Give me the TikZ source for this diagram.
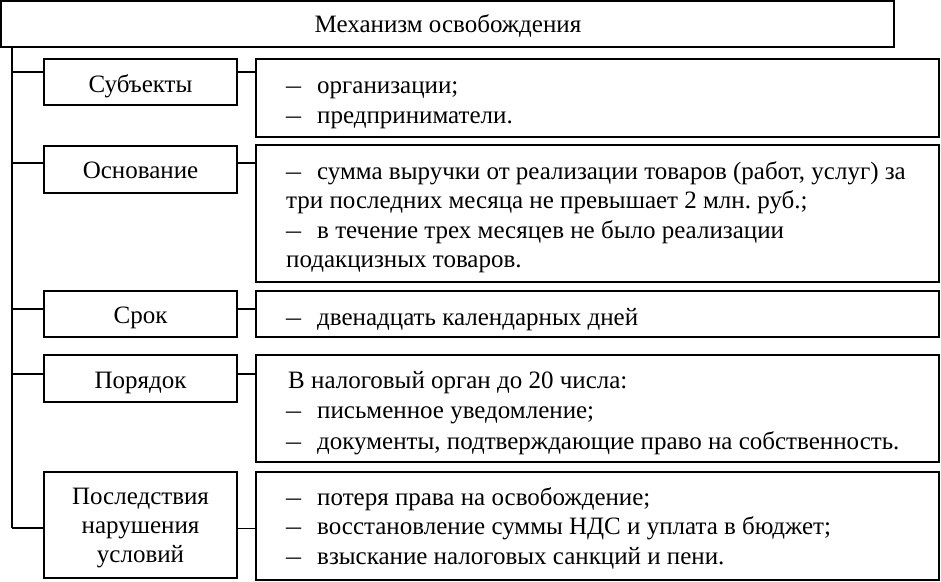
\documentclass[tikz,border=0pt]{standalone}
\usepackage{fontspec}
\setmainfont{Liberation Serif}
\frenchspacing
\begin{document}
\begin{tikzpicture}[x=1pt,y=-1pt,
  box/.style={draw,line width=2pt,inner sep=0pt,rectangle},
  lbox/.style={box,minimum width=193pt},
  rbox/.style={box,minimum width=683pt},
  conn/.style={line width=2pt},
  thin/.style={line width=1pt},
  txt/.style={inner sep=0pt,anchor=base west,font=\fontsize{25}{29}\selectfont},
  ctxt/.style={inner sep=0pt,anchor=base,font=\fontsize{25}{29}\selectfont},
  dsh/.style={inner sep=0pt,anchor=base west,font=\fontsize{25}{29}\selectfont}
]
\useasboundingbox (0,0) rectangle (941,581);
% title
\node[box,minimum width=893pt,minimum height=46pt] (title) at (447.5,24) {};
\node[ctxt] (ttl) at (448,32) {Механизм освобождения};
% left boxes
\node[lbox,minimum height=46pt] (s1) at (140.5,82) {};
\node[lbox,minimum height=47pt] (s2) at (140.5,169.5) {};
\node[lbox,minimum height=46pt] (s3) at (140.5,314) {};
\node[lbox,minimum height=47pt] (s4) at (140.5,378.5) {};
\node[lbox,minimum height=106pt] (s5) at (140.5,525) {};
% right boxes
\node[rbox,minimum height=78pt] (r1) at (597.5,98) {};
\node[rbox,minimum height=137pt] (r2) at (597.5,213.5) {};
\node[rbox,minimum height=46pt] (r3) at (597.5,314) {};
\node[rbox,minimum height=107pt] (r4) at (597.5,408.5) {};
\node[rbox,minimum height=108pt] (r5) at (597.5,526) {};
% left labels
\node[ctxt] (l1) at (140.5,92) {Субъекты};
\node[ctxt] (l2) at (140.5,178) {Основание};
\node[ctxt] (l3) at (140.5,323.5) {Срок};
\node[ctxt] (l4) at (140.5,388) {Порядок};
\node[ctxt] (l5a) at (140.5,504) {Последствия};
\node[ctxt] (l5b) at (140.5,533) {нарушения};
\node[ctxt] (l5c) at (140.5,562) {условий};
% right texts
\newcommand{\dashmark}{\scalebox{1.2}[1]{–}}
\node[dsh] (d1a) at (286,93) {\dashmark};
\node[txt] (t1a) at (317,93) {организации;};
\node[dsh] (d1b) at (286,123) {\dashmark};
\node[txt] (t1b) at (317,123) {предприниматели.};
\node[dsh] (d2a) at (286,179) {\dashmark};
\node[txt] (t2a) at (317,179) {сумма выручки от реализации товаров (работ, услуг) за};
\node[txt] (t2b) at (286,208) {три последних месяца не превышает 2 млн. руб.;};
\node[dsh] (d2c) at (286,238) {\dashmark};
\node[txt] (t2c) at (317,238) {в течение трех месяцев не было реализации};
\node[txt] (t2d) at (286,267.5) {подакцизных товаров.};
\node[dsh] (d3a) at (286,325) {\dashmark};
\node[txt] (t3a) at (317,325) {двенадцать календарных дней};
\node[txt] (t4a) at (288,388) {В налоговый орган до 20 числа:};
\node[dsh] (d4b) at (286,418) {\dashmark};
\node[txt] (t4b) at (317,418) {письменное уведомление;};
\node[dsh] (d4c) at (286,449) {\dashmark};
\node[txt] (t4c) at (317,449) {документы, подтверждающие право на собственность.};
\node[dsh] (d5a) at (286,505) {\dashmark};
\node[txt] (t5a) at (317,505) {потеря права на освобождение;};
\node[dsh] (d5b) at (286,534.5) {\dashmark};
\node[txt] (t5b) at (317,534.5) {восстановление суммы НДС и уплата в бюджет;};
\node[dsh] (d5c) at (286,564) {\dashmark};
\node[txt] (t5c) at (317,564) {взыскание налоговых санкций и пени.};
% connectors
\coordinate (c1) at (12,72);
\coordinate (c2) at (12,163);
\coordinate (c3) at (12,309);
\coordinate (c4) at (12,374);
\coordinate (c5) at (12,528);
\draw[conn] (title.south -| c5) -- (c5);
\draw[conn] (c1) -- (c1 -| s1.west);
\draw[conn] (c2) -- (c2 -| s2.west);
\draw[conn] (c3) -- (c3 -| s3.west);
\draw[conn] (c4) -- (c4 -| s4.west);
\draw[conn] (c5) -- (c5 -| s5.west);
\draw[conn] (c1 -| s1.east) -- (c1 -| r1.west);
\draw[conn] (c2 -| s2.east) -- (c2 -| r2.west);
\draw[conn] (c3 -| s3.east) -- (c3 -| r3.west);
\draw[conn] (c4 -| s4.east) -- (c4 -| r4.west);
\draw[thin] (c5 -| s5.east) -- (c5 -| r5.west);
\end{tikzpicture}
\end{document}
